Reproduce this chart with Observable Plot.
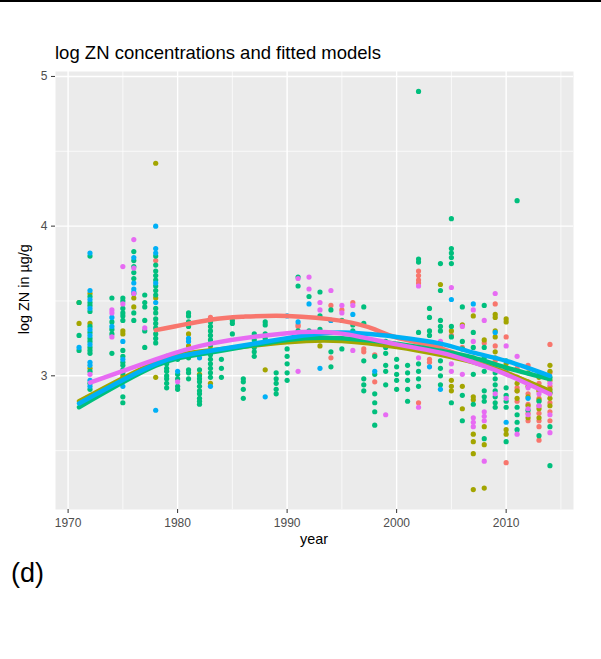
<!DOCTYPE html>
<html><head><meta charset="utf-8">
<script src="https://cdn.jsdelivr.net/npm/d3@7"></script>
<script src="https://cdn.jsdelivr.net/npm/@observablehq/plot@0.6"></script>
<style>
body{margin:0;background:#fff;}
#wrap{position:relative;width:601px;height:659px;font-family:'Liberation Sans',Arial,sans-serif;overflow:hidden}
.t{position:absolute;white-space:nowrap;line-height:1}
</style></head>
<body>
<div id="wrap">
  <div style="position:absolute;left:0;top:0;width:601px;height:2px;background:#000"></div>
  <div id="chart" style="position:absolute;left:0;top:0"></div>
  <div class="t" style="left:55px;top:44px;font-size:18.5px;color:#000">log ZN concentrations and fitted models</div>
  <div class="t" style="left:-76px;top:282px;width:200px;text-align:center;font-size:14.4px;color:#000;transform:rotate(-90deg)">log ZN in µg/g</div>
  <div class="t" style="left:214px;top:532px;width:200px;text-align:center;font-size:14.4px;color:#000">year</div>
  <div class="t" style="left:11px;top:560px;font-size:27px;color:#000">(d)</div>
</div>
<script>
// groups (ggplot hue palette, 5 levels)
const groupNames = ["g1", "g2", "g3", "g4", "g5"];
const groupColors = ["#F8766D", "#A3A500", "#00BF7D", "#00B0F6", "#E76BF3"];

// observed points: [year, [values]]
const pointsG1 = [
  [1978,[3.77]],[1983,[3.39]],[1991,[3.34,3.33]],[1994,[3.47,3.37,3.12]],[1995,[3.44,3.24]],
  [1996,[3.49]],[1997,[3.18,3.16]],[1998,[3.14,2.96]],[2002,[3.70,3.67,3.64,3.62,2.82]],
  [2003,[3.11,3.09]],[2004,[3.20]],[2005,[3.27]],[2006,[3.19]],[2007,[3.12]],[2008,[3.22]],
  [2009,[3.48,3.20,3.10]],[2010,[3.26,2.42]],[2011,[3.05,2.99,2.92,2.90,2.83]],
  [2012,[3.07,2.96,2.88,2.81,2.75,2.70]],[2013,[2.95,2.90,2.85,2.80,2.75,2.70,2.66,2.57]],
  [2014,[3.21,3.02,2.93,2.88,2.82,2.76,2.70]]
];
const pointsG2 = [
  [1971,[3.35,3.49]],[1972,[3.55,3.35,3.05]],[1975,[3.30,3.28,3.00]],[1976,[3.46,3.52]],
  [1978,[4.42,3.52,2.99]],[1981,[3.28,3.20]],[1982,[3.01]],[1983,[3.20,2.95]],[1988,[3.04]],
  [1993,[3.20]],[2004,[3.61]],[2005,[3.30,2.97,2.93,2.90]],[2006,[3.34,3.12,2.93,2.78]],
  [2007,[3.40,2.86,2.84,2.61,2.56,2.48,2.24]],[2008,[3.24,2.66,2.54,2.25]],
  [2009,[3.41,3.39,3.30,3.26,3.16,3.12]],[2010,[3.38,3.36,3.08,2.64,2.61]],
  [2011,[2.99,2.95,2.90,2.85]],[2012,[3.02,2.93,2.86,2.80,2.72]],[2013,[2.99,2.90,2.84,2.78,2.72]],
  [2014,[3.07,3.03,2.97,2.91,2.85,2.80]]
];
const pointsG3 = [
  [1971,[3.49,3.27,3.17]],
  [1972,[3.80,3.53,3.49,3.47,3.43,3.33,3.29,3.25,3.23,3.19,3.17,3.15,3.03,2.95,2.91]],
  [1974,[3.52,3.36,3.31,3.28,3.15,2.93]],
  [1975,[3.52,3.50,3.45,3.42,3.40,3.37,3.17,3.13,3.09,3.07,3.04,3.02,2.98,2.86,2.82]],
  [1976,[3.83,3.77,3.73,3.69,3.65,3.55,3.42,3.37]],
  [1977,[3.54,3.49,3.46,3.37,3.30,3.19]],
  [1978,[3.80,3.74,3.70,3.67,3.64,3.60,3.57,3.54,3.45,3.42,3.38,3.35,3.32,3.28,3.25,3.22]],
  [1979,[3.13,3.08,3.05,3.03,3.00,2.98,2.95,2.92]],
  [1980,[3.11,3.01,2.98,2.93,2.91]],
  [1981,[3.42,3.40,3.36,3.33,3.12,3.04,3.02,2.98]],
  [1982,[3.04,3.00,2.98,2.96,2.93,2.90,2.88,2.85,2.83,2.81]],
  [1983,[3.36,3.33,3.30,3.27,3.24,3.21,3.17,3.14,3.11,3.08,3.05,3.02,2.99]],
  [1984,[3.11,3.05,2.99]],[1985,[3.37,3.35,3.28]],[1986,[2.98,2.96,2.91,2.85]],
  [1987,[3.28,3.24,3.19,3.16,3.13]],[1988,[3.36,3.34,3.28,3.25]],[1989,[3.02,2.98,2.95,2.91,2.88]],
  [1990,[3.23,3.18,3.13,3.08,3.02,2.97]],[1991,[3.66,3.60,3.30,3.26]],[1992,[3.53,3.30]],
  [1993,[3.56,3.40,3.31,3.24]],[1994,[3.44,3.16,3.06]],[1995,[3.37,3.18]],[1996,[3.34,3.30]],
  [1997,[3.46,3.35,3.10,2.98,2.94,2.90]],[1998,[3.13,3.01,2.88,2.82,2.76,2.67]],
  [1999,[3.23,3.19,3.15,3.07,3.03,2.94]],[2000,[3.11,3.06,3.01,2.97,2.91]],
  [2001,[3.07,3.02,2.97,2.91,2.83]],[2002,[4.90,3.78,3.76,3.29,3.08,3.03,2.98,2.93]],
  [2003,[3.45,3.39,3.30,3.27]],[2004,[3.75,3.57,3.37,3.33,3.30,3.10,3.05,3.00,2.94]],
  [2005,[4.05,3.85,3.82,3.79,3.75,3.33,3.26,2.82]],[2006,[3.46,3.23,3.18,2.87,2.70]],
  [2007,[3.29,3.19,3.01,2.81]],[2008,[3.47,3.19,3.12,3.08,3.03,2.90,2.86,2.83,2.58]],
  [2009,[3.06,3.02,2.98,2.94,2.90,2.86,2.82,2.79]],[2010,[3.10,3.04,2.92,2.87,2.83,2.79,2.56]],
  [2011,[4.17,2.79,2.74,2.69,2.64]],[2012,[2.95,2.77]],[2013,[3.02,2.83,2.60]],[2014,[2.99,2.89,2.66,2.40]]
];
const pointsG4 = [
  [1971,[3.19]],[1972,[3.82,3.57,3.51,3.45,3.31,3.27,3.21,3.09,3.07,2.97,2.93]],[1974,[3.39,3.33]],
  [1975,[3.23,3.11,2.93]],[1976,[3.79,3.62,3.58,3.56]],[1978,[4.00,3.85,3.82,3.62,3.49,3.10,2.77]],
  [1980,[3.03]],[1981,[3.25,3.23]],[1982,[3.12]],[1983,[2.93]],[1988,[2.86]],[1990,[3.40]],
  [1991,[3.36]],[1992,[3.48]],[1993,[3.05]],[1994,[3.37]],[1996,[3.41]],[1998,[3.03]],
  [2003,[3.06]],[2004,[2.91]],[2005,[3.51]],[2007,[3.48]],[2009,[3.29]],[2010,[2.69]],[2012,[2.85]]
];
const pointsG5 = [
  [1972,[3.01]],[1974,[3.44,3.42,3.26]],[1975,[3.73,3.48]],[1976,[3.91,3.72,3.55]],[1977,[3.32]],
  [1979,[3.10]],[1980,[2.96]],[1991,[3.65,3.03]],[1992,[3.66,3.58]],[1993,[3.49,3.44]],[1994,[3.57]],
  [1995,[3.47,3.42]],[1996,[3.47,3.17]],[1999,[2.74]],[2002,[3.60,3.12,2.79]],[2004,[3.23]],
  [2005,[3.59,3.14,3.08,3.03]],[2006,[3.33,3.01]],[2007,[3.44,3.23,2.72,2.69,2.66]],
  [2008,[3.37,2.76,2.73,2.70,2.43]],[2009,[3.55,2.88]],[2010,[3.20,2.85]],[2011,[3.13,2.61]],
  [2012,[2.92,2.78,2.74]],[2013,[2.88,2.80]],[2014,[2.95,2.74,2.62]]
];

// fitted model curves: [year, value]
const fitG1 = [[1978,3.305],[1983,3.375],[1986,3.395],[1990,3.40],[1995,3.367],[1998,3.31],[2000,3.256],[2004,3.185],[2007,3.10],[2010,3.022],[2014,2.89]];
const fitG2 = [[1971,2.83],[1978,3.089],[1983,3.17],[1990,3.225],[1995,3.233],[2000,3.193],[2004,3.14],[2007,3.09],[2010,3.02],[2014,2.90]];
const fitG3 = [[1971,2.79],[1978,3.067],[1983,3.155],[1990,3.24],[1995,3.251],[2000,3.215],[2004,3.167],[2007,3.122],[2010,3.055],[2014,2.978]];
const fitG4 = [[1971,2.815],[1978,3.078],[1983,3.167],[1990,3.252],[1995,3.289],[2000,3.26],[2004,3.215],[2007,3.155],[2010,3.10],[2014,3.00]];
const fitG5 = [[1972,2.955],[1978,3.11],[1983,3.215],[1990,3.285],[1995,3.282],[2000,3.21],[2004,3.155],[2007,3.09],[2010,3.01],[2014,2.878]];

const xTicks = [1970, 1980, 1990, 2000, 2010];
const xMinor = [1975, 1985, 1995, 2005, 2015];
const yTicks = [3, 4, 5];
const yMinor = [2.5, 3.5, 4.5];

const pointSets = [pointsG1, pointsG2, pointsG3, pointsG4, pointsG5];
const fitSets = [fitG1, fitG2, fitG3, fitG4, fitG5];
const points = pointSets.flatMap((set, i) =>
  set.flatMap(([year, vals]) => vals.map(v => ({year, value: v, group: groupNames[i]}))));
const fits = fitSets.flatMap((set, i) => set.map(([year, value]) => ({year, value, group: groupNames[i]})));

function expand(ext) { const r = ext[1] - ext[0]; return [ext[0] - 0.05 * r, ext[1] + 0.05 * r]; }
const xDomain = expand(d3.extent(points, d => d.year));
const yDomain = expand(d3.extent(points, d => d.value));

const chart = Plot.plot({
  width: 601, height: 560,
  marginLeft: 55, marginRight: 28, marginTop: 71, marginBottom: 51,
  style: {fontFamily: "'Liberation Sans', Arial, sans-serif", fontSize: "12px", color: "#4D4D4D", background: "transparent"},
  x: {domain: xDomain, label: null},
  y: {domain: yDomain, label: null},
  color: {domain: groupNames, range: groupColors},
  marks: [
    Plot.frame({fill: "#EBEBEB", stroke: "none"}),
    Plot.ruleX(xMinor, {stroke: "#fff", strokeWidth: 0.7}),
    Plot.ruleY(yMinor, {stroke: "#fff", strokeWidth: 0.7}),
    Plot.ruleX(xTicks, {stroke: "#fff", strokeWidth: 1.4}),
    Plot.ruleY(yTicks, {stroke: "#fff", strokeWidth: 1.4}),
    Plot.dot(points, {x: "year", y: "value", fill: "group", r: 2.6}),
    Plot.line(fits, {x: "year", y: "value", stroke: "group", strokeWidth: 4.5, curve: "natural"}),
    Plot.axisX({ticks: xTicks, tickFormat: d => String(d), tickSize: 4, tickPadding: 5, label: null, stroke: "#333"}),
    Plot.axisY({ticks: yTicks, tickFormat: d => String(d), tickSize: 4, tickPadding: 4, label: null, stroke: "#333"})
  ]
});
document.getElementById("chart").appendChild(chart);
</script>
</body></html>
